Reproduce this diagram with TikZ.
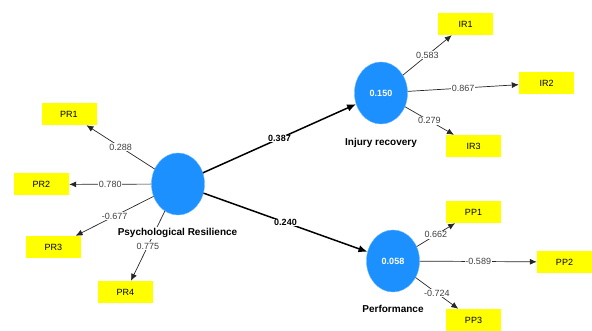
\documentclass[tikz,border=0pt]{standalone}
\usepackage{fontspec}
\setmainfont{Liberation Sans}
\usetikzlibrary{shapes.geometric, arrows.meta}

\definecolor{lvblue}{RGB}{28,144,255}
\definecolor{mvyellow}{RGB}{255,255,0}

\tikzset{
    latent/.style={ellipse, fill=lvblue, draw=lvblue!70, minimum width=53pt, minimum height=62pt,
        inner sep=0pt, text=white, font=\bfseries\fontsize{9}{11}\selectfont},
    indicator/.style={rectangle, fill=mvyellow, minimum width=55pt, minimum height=22pt, inner sep=0pt},
    loading/.style={-{Latex[length=7pt, width=6pt]}, line width=0.7pt, black!85},
    structural/.style={-{Latex[length=9pt, width=7.5pt]}, line width=1.5pt},
    weight/.style={fill=white, inner sep=0.8pt, text=black!75},
    coef/.style={fill=white, inner sep=0.8pt, font=\bfseries\fontsize{9}{11}\selectfont},
    cname/.style={fill=white, inner sep=1pt, font=\bfseries\fontsize{10}{12}\selectfont}
}

\begin{document}
\begin{tikzpicture}[x=1pt, y=-1pt, font=\fontsize{9}{11}\selectfont]

    % Frame
    \useasboundingbox (0,0) rectangle (592,331);

    % Latent variables
    \node[latent] (PR) at (178,184) {};
    \node[latent] (IR) at (381,93) {0.150};
    \node[latent] (PP) at (393,261) {0.058};

    % Indicators
    \foreach \n/\x/\y in {PR1/69/114, PR2/41.5/184.5, PR3/53.5/247, PR4/125.5/292,
            IR1/465.5/24, IR2/546.5/83, IR3/473.5/146,
            PP1/473.5/212, PP2/564.5/262, PP3/473.5/320}
        \node[indicator] (\n) at (\x,\y) {\n};

    % Outer loadings
    \foreach \a/\b/\w in {PR/PR1/0.288, PR/PR2/0.780, PR/PR3/-0.677, PR/PR4/0.775,
            IR/IR1/0.583, IR/IR2/0.867, IR/IR3/0.279,
            PP/PP1/0.662, PP/PP2/-0.589, PP/PP3/-0.724}
        \draw[loading] (\a) -- (\b) node[midway, weight] {\w};

    % Path coefficients
    \draw[structural] (PR) -- (IR) node[midway, coef] {0.387};
    \draw[structural] (PR) -- (PP) node[midway, coef] {0.240};

    % Construct names
    \node[cname] (PRname) at (177.5,233) {Psychological Resilience};
    \node[cname] (IRname) at (381,143) {Injury recovery};
    \node[cname] (PPname) at (393,309) {Performance};

\end{tikzpicture}
\end{document}
